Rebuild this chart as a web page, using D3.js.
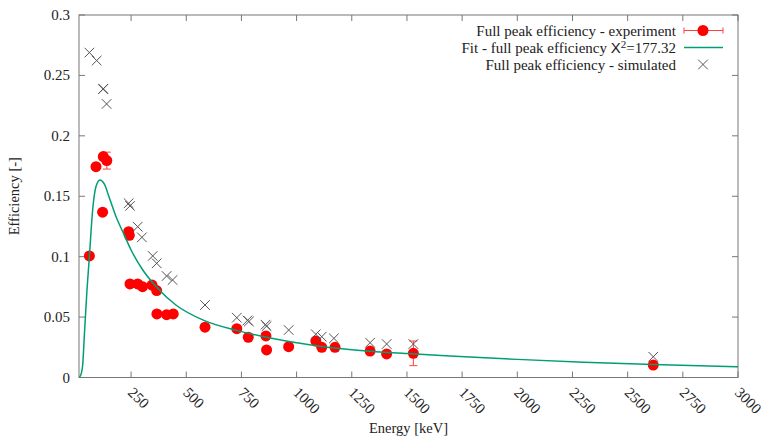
<html>
<head>
<meta charset="utf-8">
<script src="https://cdnjs.cloudflare.com/ajax/libs/d3/7.8.5/d3.min.js"></script>
<style>
  body { margin: 0; background: #fff; }
  text { font-family: "Liberation Serif", "Times New Roman", serif; fill: #222; }
</style>
</head>
<body>
<script>

// experiment (full peak efficiency)
var expEnergy = [61, 91, 121, 124, 140, 239, 242, 245, 280, 302, 345, 366, 367, 411, 441, 585, 729, 781, 861, 864, 964, 1087, 1114, 1174, 1333, 1408, 1529, 2616];
var expEff    = [0.1006, 0.1745, 0.1368, 0.1828, 0.1795, 0.1207, 0.1177, 0.0774, 0.0774, 0.0752, 0.0765, 0.0719, 0.0526, 0.052, 0.0526, 0.0416, 0.0404, 0.0333, 0.0344, 0.0228, 0.0255, 0.0302, 0.025, 0.025, 0.0219, 0.0195, 0.020, 0.0103];
var expErr    = [0, 0, 0, 0, 0.007, 0, 0, 0, 0, 0, 0, 0, 0, 0, 0, 0, 0, 0, 0, 0, 0, 0, 0, 0, 0, 0, 0.0102, 0];

// simulated
var simEnergy = [61, 94, 123, 124, 139, 239, 245, 280, 299, 348, 366, 411, 438, 585, 729, 777, 784, 859, 864, 964, 1087, 1114, 1169, 1333, 1408, 1529, 2616];
var simEff    = [0.2689, 0.2623, 0.2386, 0.2390, 0.2264, 0.1442, 0.1420, 0.1248, 0.116, 0.1006, 0.0945, 0.084, 0.0807, 0.060, 0.0495, 0.0472, 0.0464, 0.0437, 0.0425, 0.0393, 0.0358, 0.0338, 0.0324, 0.0288, 0.0277, 0.0277, 0.0172];

// fit curve
var fitEnergy = [14, 22, 31, 38, 50, 61, 76, 91, 109, 129, 151, 182, 219, 250, 303, 363, 453, 577, 728, 880, 1030, 1182, 1333, 1500, 1695, 2000, 2300, 2616, 3000];
var fitEff    = [0, 0.002, 0.011, 0.034, 0.072, 0.1, 0.139, 0.158, 0.1635, 0.160, 0.149, 0.133, 0.118, 0.1055, 0.089, 0.0753, 0.060, 0.0475, 0.039, 0.0327, 0.028, 0.0242, 0.0218, 0.0198, 0.0178, 0.0150, 0.0127, 0.0108, 0.0089];

var xTicks = [250, 500, 750, 1000, 1250, 1500, 1750, 2000, 2250, 2500, 2750, 3000];
var yTicks = [0, 0.05, 0.1, 0.15, 0.2, 0.25, 0.3];

var legendLabels = ["Full peak efficiency - experiment", "Fit - full peak efficiency ", "Full peak efficiency - simulated"];

var W = 763, H = 439;
var pL = 79, pR = 738, pT = 15, pB = 377.5;
var fs = 15;

var svg = d3.select("body").append("svg").attr("width", W).attr("height", H);

var x = d3.scaleLinear().domain([14, 3000]).range([pL, pR]);
var y = d3.scaleLinear().domain([0, 0.3]).range([pB, pT]);

var axisColor = "#777";

// frame
svg.append("rect")
    .attr("x", pL).attr("y", pT)
    .attr("width", pR - pL).attr("height", pB - pT)
    .attr("fill", "none").attr("stroke", axisColor).attr("stroke-width", 1);

// ticks, inward, mirrored
var tk = 6;
xTicks.forEach(function(t) {
    svg.append("line").attr("x1", x(t)).attr("x2", x(t)).attr("y1", pB).attr("y2", pB - tk).attr("stroke", axisColor);
    svg.append("line").attr("x1", x(t)).attr("x2", x(t)).attr("y1", pT).attr("y2", pT + tk).attr("stroke", axisColor);
    svg.append("text")
        .attr("transform", "translate(" + (x(t) - 4) + "," + (pB + 16) + ") rotate(45)")
        .attr("font-size", fs)
        .text(t);
});
yTicks.forEach(function(t) {
    svg.append("line").attr("x1", pL).attr("x2", pL + tk).attr("y1", y(t)).attr("y2", y(t)).attr("stroke", axisColor);
    svg.append("line").attr("x1", pR).attr("x2", pR - tk).attr("y1", y(t)).attr("y2", y(t)).attr("stroke", axisColor);
    svg.append("text")
        .attr("x", pL - 9).attr("y", y(t) + 5)
        .attr("text-anchor", "end")
        .attr("font-size", fs)
        .text(t);
});

// axis titles
svg.append("text")
    .attr("x", (pL + pR) / 2).attr("y", 433)
    .attr("text-anchor", "middle").attr("font-size", 14.5)
    .text("Energy [keV]");
svg.append("text")
    .attr("transform", "translate(19," + ((pT + pB) / 2) + ") rotate(-90)")
    .attr("text-anchor", "middle").attr("font-size", 14.5)
    .text("Efficiency [-]");

svg.append("clipPath").attr("id", "clip")
    .append("rect").attr("x", pL).attr("y", pT).attr("width", pR - pL).attr("height", pB - pT);

var plot = svg.append("g").attr("clip-path", "url(#clip)");

var expData = expEnergy.map(function(e, i) { return {e: e, v: expEff[i], err: expErr[i]}; });
var simData = simEnergy.map(function(e, i) { return {e: e, v: simEff[i]}; });
var fitData = fitEnergy.map(function(e, i) { return {e: e, v: fitEff[i]}; });

var red = "#ff0000", green = "#009e73", grey = "#555";

// error bars
var eb = expData.filter(function(d) { return d.err > 0; });
eb.forEach(function(d) {
    var g = plot.append("g").attr("stroke", "#ff4040").attr("stroke-width", 1);
    g.append("line").attr("x1", x(d.e)).attr("x2", x(d.e)).attr("y1", y(d.v - d.err)).attr("y2", y(d.v + d.err));
    g.append("line").attr("x1", x(d.e) - 4).attr("x2", x(d.e) + 4).attr("y1", y(d.v - d.err)).attr("y2", y(d.v - d.err));
    g.append("line").attr("x1", x(d.e) - 4).attr("x2", x(d.e) + 4).attr("y1", y(d.v + d.err)).attr("y2", y(d.v + d.err));
});

// experiment points
plot.selectAll("circle.exp")
    .data(expData)
    .enter()
    .append("circle")
    .attr("class", "exp")
    .attr("cx", function(d) { return x(d.e); })
    .attr("cy", function(d) { return y(d.v); })
    .attr("r", 5.5)
    .attr("fill", red);

// fit
var line = d3.line()
    .x(function(d) { return x(d.e); })
    .y(function(d) { return y(d.v); })
    .curve(d3.curveMonotoneX);

plot.append("path")
    .datum(fitData)
    .attr("d", line)
    .attr("fill", "none")
    .attr("stroke", green)
    .attr("stroke-width", 1.5);

// simulated crosses
var cs = 4.8;
plot.selectAll("path.sim")
    .data(simData)
    .enter()
    .append("path")
    .attr("class", "sim")
    .attr("d", function(d) {
        var cx = x(d.e), cy = y(d.v);
        return "M" + (cx - cs) + "," + (cy - cs) + "L" + (cx + cs) + "," + (cy + cs) +
               "M" + (cx - cs) + "," + (cy + cs) + "L" + (cx + cs) + "," + (cy - cs);
    })
    .attr("stroke", grey)
    .attr("stroke-width", 1)
    .attr("fill", "none");

// legend
var lgX = 676, sx1 = 684, sx2 = 723, sxm = 703;
var rows = [30.5, 47.5, 64.5];

svg.append("text").attr("x", lgX).attr("y", rows[0] + 5).attr("text-anchor", "end").attr("font-size", fs).text(legendLabels[0]);
var t2 = svg.append("text").attr("x", lgX).attr("y", rows[1] + 5).attr("text-anchor", "end").attr("font-size", fs);
t2.append("tspan").text(legendLabels[1]);
t2.append("tspan").style("font-family", "'Liberation Sans', sans-serif").text("X");
t2.append("tspan").attr("dy", -5).attr("font-size", 11).text("2");
t2.append("tspan").attr("dy", 5).text("=177.32");
svg.append("text").attr("x", lgX).attr("y", rows[2] + 5).attr("text-anchor", "end").attr("font-size", fs).text(legendLabels[2]);

var lg1 = svg.append("g").attr("stroke", "#ff4040").attr("stroke-width", 1);
lg1.append("line").attr("x1", sx1).attr("x2", sx2).attr("y1", rows[0]).attr("y2", rows[0]);
lg1.append("line").attr("x1", sx1).attr("x2", sx1).attr("y1", rows[0] - 3).attr("y2", rows[0] + 3);
lg1.append("line").attr("x1", sx2).attr("x2", sx2).attr("y1", rows[0] - 3).attr("y2", rows[0] + 3);
svg.append("circle").attr("cx", sxm).attr("cy", rows[0]).attr("r", 5.5).attr("fill", red);

svg.append("line").attr("x1", sx1).attr("x2", sx2).attr("y1", rows[1]).attr("y2", rows[1])
    .attr("stroke", green).attr("stroke-width", 1.5);

svg.append("path")
    .attr("d", "M" + (sxm - cs) + "," + (rows[2] - cs) + "L" + (sxm + cs) + "," + (rows[2] + cs) +
               "M" + (sxm - cs) + "," + (rows[2] + cs) + "L" + (sxm + cs) + "," + (rows[2] - cs))
    .attr("stroke", grey).attr("fill", "none");

</script>
</body>
</html>
